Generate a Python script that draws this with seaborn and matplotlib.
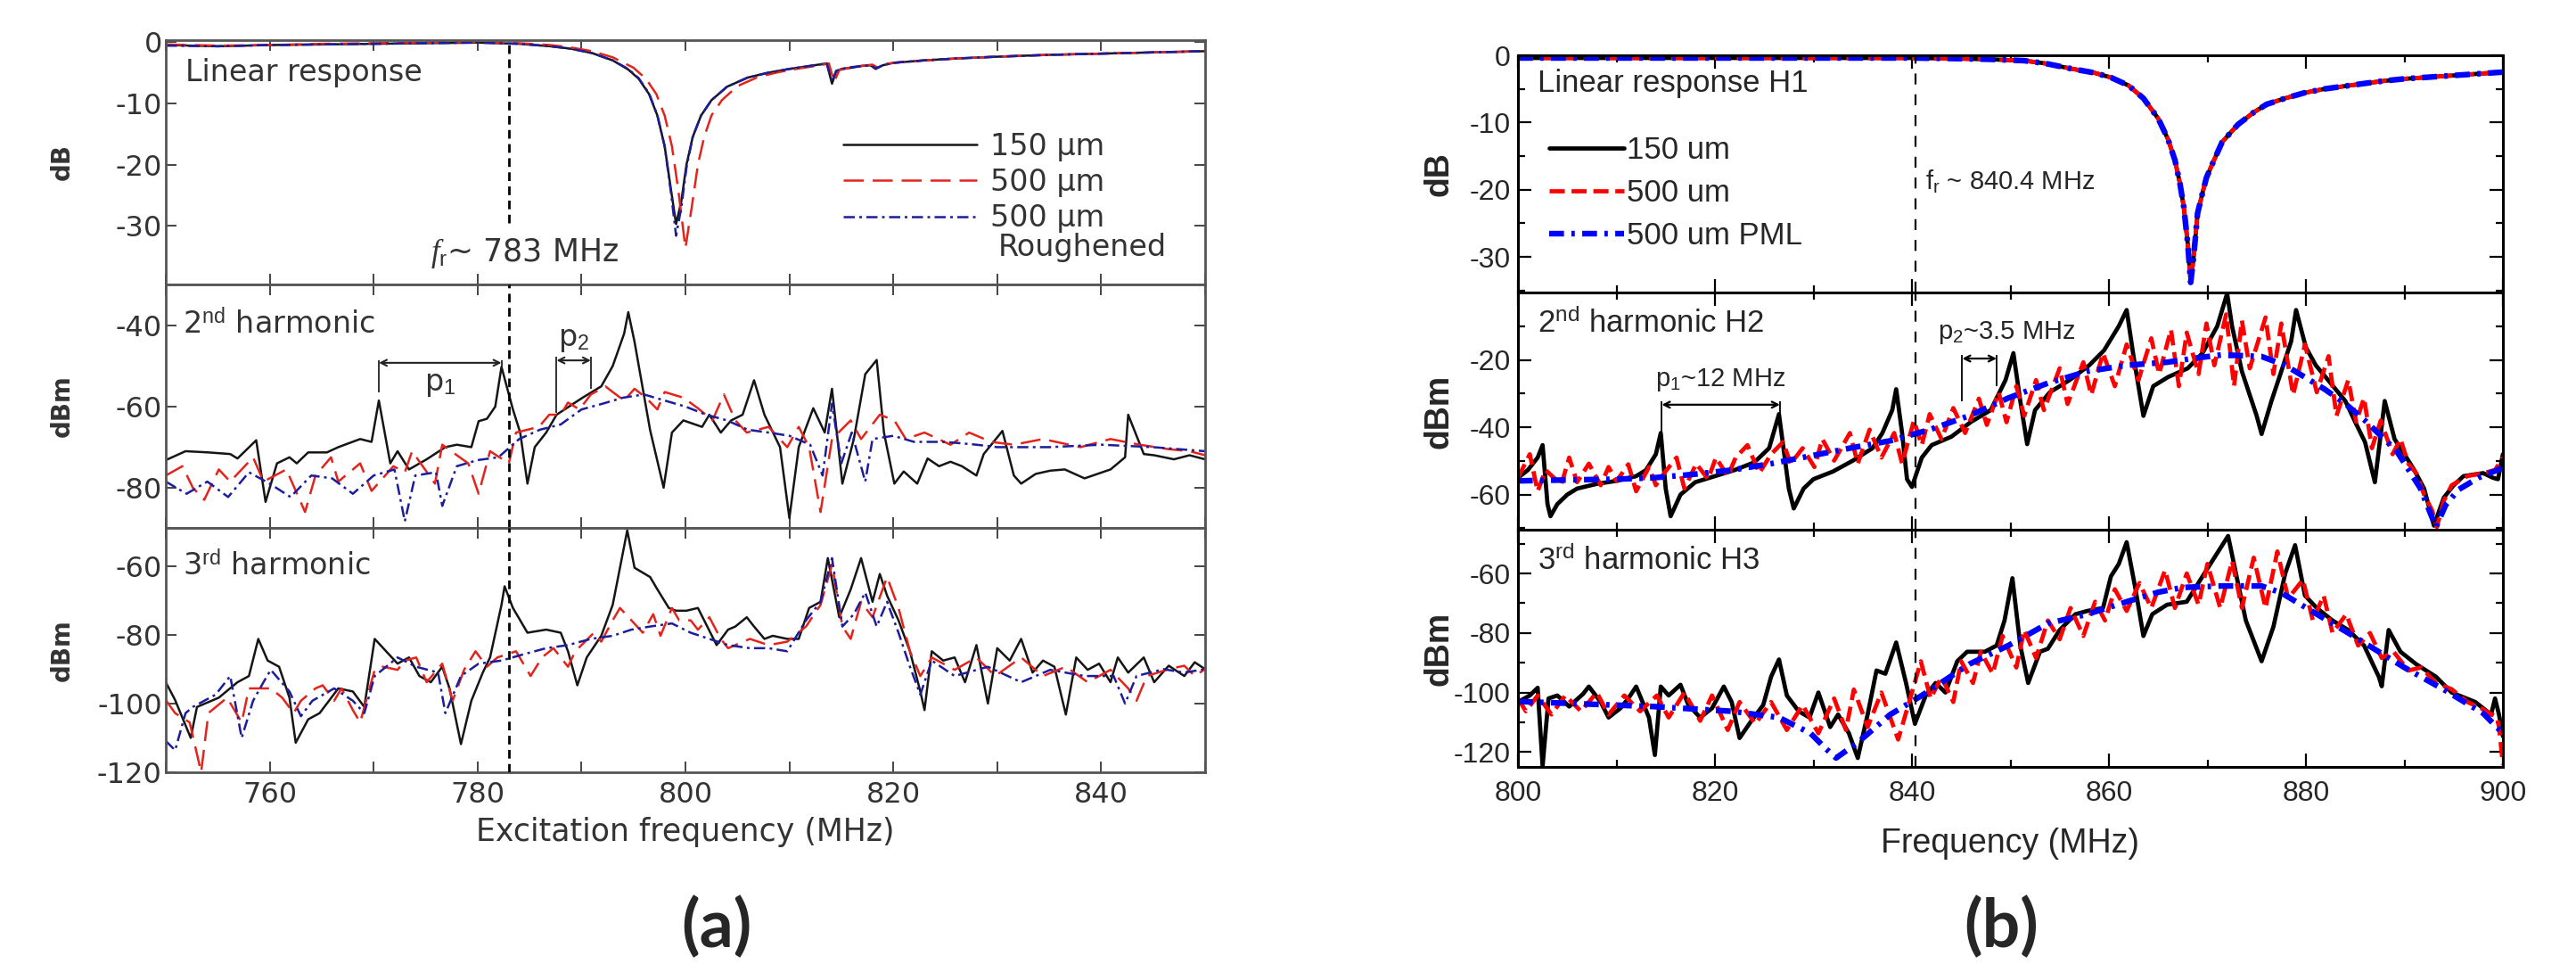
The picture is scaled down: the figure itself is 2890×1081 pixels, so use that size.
import matplotlib
matplotlib.use("Agg")
import matplotlib.pyplot as plt
import seaborn as sns
import pandas as pd

# --------------------------
# Datos panel (a): medición (frecuencia MHz, nivel)
# --------------------------
a_h1_black = [(750, -0.5), (755, -0.7), (760, -0.5), (765, -0.4), (770, -0.3), (775, -0.2), (780, -0.1),
              (784, -0.3), (787, -0.7), (789, -1.1), (791, -1.8), (793, -3.0), (794.5, -4.5), (795.5, -6.0),
              (796.5, -8.5), (797.3, -12), (798, -17), (798.6, -24), (799.1, -29.7), (799.6, -26),
              (800.1, -20), (800.7, -15.5), (801.5, -12), (802.5, -9.5), (804, -7.3), (806, -5.8),
              (808, -5.0), (810, -4.4), (812, -3.9), (813.6, -3.5), (814.1, -6.8), (814.5, -4.8),
              (815, -4.4), (816, -4.2), (817, -3.9), (817.8, -3.8), (818.3, -4.4), (819, -3.8),
              (820, -3.4), (823, -3.0), (826, -2.7), (830, -2.4), (835, -2.1), (840, -1.9), (845, -1.7),
              (850, -1.5)]
a_h1_red = [(750, -0.4), (755, -0.6), (760, -0.5), (765, -0.3), (770, -0.2), (775, -0.1), (780, 0.0),
            (784, -0.2), (787, -0.5), (789, -0.9), (791, -1.5), (793, -2.5), (795, -4.2), (796.2, -6.0),
            (797.2, -8.5), (798, -12), (798.7, -17), (799.3, -24), (800, -33.6), (800.6, -27),
            (801.2, -20), (801.8, -15.5), (802.5, -12), (803.5, -9.5), (805, -7.2), (807, -5.7),
            (809, -4.9), (811, -4.3), (813, -3.8), (813.8, -3.5), (814.3, -6.5), (814.8, -4.6),
            (816, -4.1), (818, -3.7), (818.5, -4.2), (819, -3.7), (820, -3.4), (823, -3.0), (826, -2.7),
            (830, -2.4), (835, -2.1), (840, -1.9), (845, -1.7), (850, -1.5)]
a_h1_blue = [(750, -0.6), (755, -0.7), (760, -0.5), (765, -0.4), (770, -0.3), (775, -0.2), (780, -0.1),
             (784, -0.3), (787, -0.7), (789, -1.1), (791, -1.8), (793, -3.0), (794.5, -4.4), (795.5, -5.9),
             (796.5, -8.4), (797.3, -12), (798, -17), (798.6, -24.5), (799.1, -31.6), (799.6, -27),
             (800.1, -20.5), (800.7, -15.5), (801.5, -12), (802.5, -9.5), (804, -7.3), (806, -5.8),
             (808, -5.0), (810, -4.4), (812, -3.9), (813.6, -3.5), (814.1, -6.5), (814.5, -4.7),
             (815, -4.4), (816, -4.1), (817, -3.9), (817.8, -3.8), (818.3, -4.3), (819, -3.8),
             (820, -3.4), (823, -3.0), (826, -2.7), (830, -2.4), (835, -2.1), (840, -1.9), (845, -1.7),
             (850, -1.5)]

a_h2_black = [(750, -73.2), (751.9, -71), (754.1, -71.3), (756.2, -71.7), (756.9, -72.8), (758.7, -68.3),
              (759.6, -83.5), (760.7, -74), (761.9, -72.5), (762.6, -74), (763.7, -71.3), (765.5, -71.3),
              (766.6, -70), (768.7, -68), (769.8, -68.7), (770.5, -58.5), (771.6, -74), (772.3, -71),
              (773.4, -75.5), (775.1, -73), (776.9, -70), (778, -69.4), (779.4, -70), (780.1, -63.6),
              (780.9, -63), (781.7, -60), (782.3, -50.2), (783.4, -60.7), (784.1, -66.4), (784.8, -79),
              (785.5, -70), (786.6, -66.4), (787.6, -62), (790.1, -57.8), (791.9, -55), (793, -50),
              (794.1, -42), (794.5, -36.7), (795.1, -44), (796.6, -65.8), (797.9, -80), (798.7, -66.4),
              (799.8, -63.4), (801.6, -65), (802.3, -62), (803.4, -66.4), (804.4, -63.4), (805.5, -62),
              (806.6, -53.5), (807.6, -62), (809.1, -70), (810, -87.5), (810.9, -70), (812.3, -60.4),
              (813.4, -66.4), (814.1, -55.6), (815.1, -79), (816.2, -68), (817.3, -52), (818.4, -48.5),
              (819.1, -66.4), (820.1, -79), (821, -76), (822.3, -79), (823.3, -72.8), (824.4, -74.7),
              (825.5, -73.6), (826.6, -74.7), (828, -77), (828.7, -71.7), (830.5, -66), (831.6, -77),
              (832.3, -79), (833.7, -76.6), (835.1, -75.8), (836.5, -75.5), (838.4, -77.7), (840.9, -75.5),
              (842.3, -72.5), (842.6, -62), (844.1, -71.7), (845.1, -72), (847, -73), (848.5, -72),
              (850, -73)]
a_h2_red = [(750, -77), (751.6, -74.7), (752.6, -80), (753.7, -83), (755.1, -75.5), (756.2, -78.5),
            (758.4, -72.5), (759.4, -78.5), (761.6, -75.5), (763.4, -86), (764.4, -77), (765.9, -72.5),
            (766.6, -78.5), (768.7, -74), (769.8, -80.8), (771.9, -74.7), (773, -76.2), (773.7, -71),
            (775.9, -79), (776.6, -69.4), (779.1, -74), (780.1, -81.5), (781.2, -71), (783, -74),
            (783.7, -66.4), (785.9, -65), (786.9, -62), (788, -62), (788.7, -59), (789.8, -60.7),
            (790.9, -57), (792.3, -55), (793, -56.4), (794.1, -58.5), (795.1, -55.6), (796.2, -57.8),
            (797.3, -60.7), (798, -56.4), (799.8, -57.8), (801.2, -60.4), (802.6, -63.4), (803.7, -57),
            (804.8, -63.4), (805.9, -66.4), (808, -65), (809.8, -70), (810.9, -65), (811.9, -70),
            (813, -86), (814.1, -68), (815.9, -63.4), (816.9, -68), (818.7, -62), (820.1, -63.4),
            (821.2, -68), (823, -66.4), (825.5, -69.4), (827.3, -66.4), (829.4, -68.7), (831.6, -69.4),
            (834.4, -68), (838, -70), (840.9, -68), (843.7, -69.4), (846.5, -70.5), (848.5, -71),
            (850, -72)]
a_h2_blue = [(750, -78.5), (752, -81.5), (754, -78.5), (756, -82.3), (758, -76.2), (760, -79), (762, -82.3),
             (764, -77), (766, -77.7), (768, -81.5), (770, -77), (772, -75.5), (773, -88.3), (774, -77),
             (776, -76.2), (776.6, -84.5), (778, -74.7), (780, -73.2), (782, -72.5), (784, -68),
             (786, -65.7), (788, -64.4), (790, -60.7), (792, -59.3), (794, -57.8), (796, -57),
             (798, -58.5), (800, -60), (802, -62), (804, -63.4), (806, -65.7), (808, -66.4),
             (810, -67.2), (812, -69.4), (813.2, -77), (814.1, -59.3), (815, -74), (816, -66.4),
             (817.3, -78.5), (818, -68), (820, -67.2), (822, -68.7), (825, -68.7), (828, -69.4),
             (830, -70), (835, -70), (840, -69.4), (845, -70), (850, -71)]

a_h3_black = [(750, -93.8), (750.9, -99), (752.4, -110), (753, -101), (755.1, -98.3), (756.9, -93.8),
              (758, -92), (758.9, -81.2), (759.8, -87.5), (760.9, -89.3), (761.9, -98.3), (762.5, -111.4),
              (763.7, -104.6), (764.8, -102.8), (766.6, -95.6), (768, -96.5), (769.1, -101), (770.1, -81.2),
              (771.2, -84.8), (772.3, -88.4), (773.4, -86.6), (774.4, -92), (775.5, -93.8), (776.6, -89.3),
              (777.3, -95.6), (778.4, -111.8), (779.4, -99.2), (780.5, -91), (781.2, -86.6), (782.3, -71.3),
              (782.6, -65.9), (783.4, -72.2), (784.8, -79.4), (786.6, -78.5), (788, -79.4), (788.7, -84.8),
              (789.6, -94.7), (790.5, -86.6), (791.9, -80.3), (793, -71.3), (793.7, -60.5), (794.4, -49.6),
              (795.1, -60.5), (796.6, -63.2), (797.3, -66.8), (798.4, -72.2), (799.1, -73), (800.1, -73),
              (801.2, -72.2), (802.1, -77.6), (803, -83), (804.1, -78.5), (804.8, -77.6), (805.9, -74.9),
              (806.6, -77.6), (807.6, -81.2), (808.4, -80.3), (809.8, -81.2), (810.9, -81.2), (811.9, -72.2),
              (813, -70.4), (813.7, -57.7), (814.8, -74.9), (815.9, -66.8), (816.9, -57.7), (818, -70.4),
              (818.7, -62.3), (819.4, -68.6), (820.5, -75.8), (821.6, -84.8), (822.6, -96.5), (823, -101.9),
              (823.7, -84.8), (824.8, -87.5), (825.9, -86.6), (826.9, -93.8), (828, -83), (829.1, -100),
              (830, -83.9), (831.2, -87.5), (832.3, -81.2), (833.4, -91), (834.4, -87.5), (835.5, -89.3),
              (836.6, -103.2), (837.6, -86.6), (838.7, -90.2), (839.8, -88.4), (840.9, -93.8), (841.6, -86.6),
              (842.6, -91), (844.1, -86.6), (845.1, -93.8), (846.5, -89), (848, -92), (849, -88), (850, -90)]
a_h3_red = [(750, -99), (750.9, -102.8), (752.3, -105.5), (753.4, -120), (754.1, -102.8), (755.9, -98.3),
            (757.3, -105.5), (758, -95.6), (760.1, -95.6), (761.2, -98.3), (762.3, -102.8), (763, -99.2),
            (764.4, -95.6), (765.1, -94.7), (766.2, -99.2), (766.9, -95.6), (768, -101.9), (768.7, -105.5),
            (770.1, -90.2), (770.9, -89.3), (772.3, -90.2), (773, -87.5), (774.1, -86.6), (775.1, -93.8),
            (776.6, -88.4), (777.6, -99.2), (778.7, -90.2), (779.8, -84.8), (780.9, -89.3), (781.9, -86.6),
            (783.7, -84.8), (785.1, -92), (786.2, -86.6), (787.3, -83.9), (788.7, -89.3), (789.4, -84.8),
            (791.2, -79.4), (791.9, -82), (793, -75.8), (793.7, -72.2), (794.8, -75.8), (795.9, -79.4),
            (796.9, -74), (797.6, -80.3), (798.7, -72.2), (799.4, -75.8), (800.5, -75.8), (801.2, -78.5),
            (802.3, -74.9), (803.4, -81.2), (804.1, -83.9), (806.2, -81.2), (808, -83), (809.8, -82),
            (811.6, -77.6), (813, -71.3), (814.1, -59.5), (815.1, -77.6), (815.9, -81.2), (816.9, -70.4),
            (818, -74.9), (819.4, -63.2), (820.5, -72.2), (821.6, -84.8), (822.6, -92), (823.7, -86.6),
            (825.9, -90.2), (828, -86.6), (829.8, -92), (832.3, -86.6), (834.4, -92), (836.6, -89.3),
            (838.7, -93.8), (840.9, -90.2), (842.6, -95.6), (843.4, -99.2), (844.4, -92), (846.5, -90),
            (848, -89), (849, -92), (850, -90)]
a_h3_blue = [(750, -110.9), (750.9, -113.6), (751.9, -102.8), (752.6, -101), (754.8, -97.4), (756.2, -92),
             (757.3, -110), (758.4, -99.2), (759.4, -93.8), (760.1, -90.2), (761.9, -96.5), (763, -103.7),
             (764.1, -99.2), (766.2, -95.6), (768, -99.2), (769.1, -102.8), (770.1, -92), (772.3, -86.6),
             (774.1, -89.3), (776.2, -91), (776.9, -102.8), (778.4, -92), (780.1, -88.4), (782.3, -87.5),
             (784.4, -85.7), (786.6, -83.9), (788.7, -83), (790.9, -81.2), (793, -80.3), (794.8, -78.5),
             (796.6, -77.6), (798.7, -76.7), (800.5, -79.4), (802.3, -81.2), (804.1, -83), (806.2, -83.9),
             (808, -83.9), (809.8, -84.8), (811.6, -75.8), (813, -70.4), (814.1, -57.7), (815.1, -77.6),
             (816.2, -74), (817.3, -67.7), (818.4, -77.6), (819.4, -70.4), (820.5, -79.4), (821.6, -89.3),
             (822.6, -97.4), (823.7, -87.5), (825.9, -92), (829.1, -89.3), (832.3, -93.8), (835.1, -90.2),
             (838.4, -92), (841.2, -92), (842.3, -100), (843.4, -92), (846, -90), (848, -91), (850, -90)]

# --------------------------
# Datos panel (b): simulación
# --------------------------
b_h1 = [(800, -0.4), (810, -0.4), (820, -0.4), (830, -0.4), (840, -0.4), (845, -0.5), (848, -0.6),
        (851.4, -0.8), (853.5, -1.2), (856.2, -2.0), (858.5, -2.6), (860.2, -3.3), (862, -4.5),
        (863.5, -6.4), (865, -9.4), (866, -12.5), (866.7, -15.6), (867.2, -19), (867.6, -22.6),
        (868, -28), (868.3, -33.8), (868.6, -30), (869, -23.5), (869.5, -20.5), (869.9, -18.2),
        (870.7, -15.5), (871.5, -12.9), (873.1, -10.3), (874.7, -8.5), (876, -7.3), (877.9, -6.4),
        (879.8, -5.6), (881.9, -5.0), (883.9, -4.6), (885.9, -4.2), (888, -3.8), (890, -3.5),
        (892, -3.3), (894, -3.1), (897, -2.8), (900, -2.5)]

b_h2_black = [(800, -55), (801, -52.7), (802, -49), (802.5, -45.3), (803, -62.8), (803.3, -66.4), (804, -62.8),
              (805, -60), (806, -58.2), (808, -56.8), (810, -55.9), (812, -54.5), (813, -52.7), (814, -48),
              (814.5, -41.7), (815, -58.2), (815.5, -66.4), (816.5, -60), (818, -56.3), (820, -54.5),
              (822, -52.7), (824, -50.4), (825.5, -46.2), (826.5, -36.1), (827.5, -58.2), (828, -64.1),
              (829, -58.2), (830, -55.4), (832, -53.1), (834, -49.9), (836, -46.2), (837, -41.7),
              (838, -34.9), (838.4, -28.7), (839, -41.7), (839.5, -55.4), (840, -57.7), (841, -49),
              (842, -45.3), (844, -42.8), (846, -38.4), (848, -34.9), (849.5, -26), (850.3, -18),
              (851, -32.2), (851.7, -45), (852.5, -34.9), (854, -29.6), (856, -26), (858, -21.6),
              (859.5, -17.2), (861, -10), (861.8, -5.2), (862.5, -19), (863.5, -36.6), (864.5, -27.8),
              (866, -25.1), (868, -22.5), (869.5, -18), (871, -10), (872, -0.3), (872.5, -10),
              (873.5, -23.4), (875, -36.6), (875.5, -42), (876.5, -32.2), (877.5, -23.4), (878.5, -14.5),
              (879, -5.2), (880, -16.3), (881, -21.6), (882, -25.1), (884, -32.2), (885, -38.4),
              (886, -44.4), (887, -56.3), (887.5, -44.4), (888, -32.2), (889, -43.5), (890, -48),
              (891, -52.7), (892, -58.2), (893, -69.2), (894, -60.9), (895, -57.2), (896, -54.5),
              (898, -53.6), (899, -55), (899.5, -55.4), (900, -48)]
b_h2_red = [(800, -55), (801.2, -48), (802, -59), (802.8, -52.7), (804.4, -57), (805.2, -49), (806, -56.3),
            (807.2, -50.8), (808.4, -57.2), (809.2, -51.8), (810, -56), (811.2, -51), (812, -59),
            (813.3, -51.8), (814, -57.2), (815, -53), (816.1, -49), (816.9, -58.2), (818.1, -50.8),
            (819.3, -55.4), (820.1, -49), (821.3, -54.5), (822.1, -49), (823.3, -45.3), (824.5, -53.6),
            (825.7, -48), (826.9, -44.4), (827.7, -50.8), (828.9, -46.2), (830.1, -51.8), (830.9, -43.5),
            (832.1, -49.9), (833.7, -41.7), (834.5, -50.8), (835.7, -40.7), (836.9, -49), (838.2, -41.7),
            (839, -50.8), (840.2, -38), (841, -45.3), (841.8, -36.1), (843, -43.5), (844.2, -34.3),
            (845.4, -41.7), (846.8, -31.5), (847.6, -39.3), (848.8, -29.6), (849.6, -38.5), (850.6, -27.8),
            (851.4, -36.6), (852.6, -26), (853.4, -34.9), (855, -22.5), (855.8, -33.1), (857.4, -20.7),
            (858.2, -30.4), (859.4, -18), (860.6, -27.8), (861.8, -15.4), (863, -26), (864.3, -13.6),
            (865.1, -24.2), (866.3, -11), (867.1, -27.8), (867.9, -11.9), (869.1, -24.2), (869.9, -9.2),
            (870.7, -21.6), (871.9, -6.5), (872.7, -27.8), (873.5, -8.3), (874.3, -22.5), (875.9, -7.4),
            (876.7, -24.2), (877.5, -9.2), (878.7, -30.4), (879.9, -15.4), (881.1, -29.6), (882.3, -18.9),
            (883.1, -36.6), (884.3, -26), (885.1, -38.4), (885.9, -31.3), (886.7, -46.2), (887.6, -38),
            (888.8, -48), (889.6, -43.5), (890.4, -50.8), (891.2, -53.6), (892, -60), (892.8, -64.6),
            (893.3, -69.6), (894, -61.8), (894.8, -57.2), (896.4, -54.5), (898, -53.6), (899.2, -52.7),
            (900, -49)]
b_h2_blue = [(800, -55.9), (805.6, -55.6), (810, -55.4), (813.7, -55), (817.7, -54), (821.7, -52.7),
             (825.7, -50.8), (829.7, -48.5), (833.7, -46.2), (837.8, -44), (841.8, -40.7), (845.8, -36.6),
             (849.8, -31.3), (853.8, -26.9), (857.8, -23.4), (861.8, -21.6), (865.9, -20.7), (868.7, -19.5),
             (871.5, -18.5), (875.5, -19), (877.9, -21.6), (881.9, -28.7), (884, -33), (886, -38),
             (889.2, -47), (891.6, -58), (893.2, -69.6), (894.2, -63), (895.5, -58.5), (897.5, -55),
             (900, -52)]

b_h3_black = [(800, -103.2), (801.2, -101), (802, -98.4), (802.5, -124.7), (803.1, -102), (804, -101),
              (805.2, -104.7), (806.6, -100.5), (807.2, -98), (808.4, -103.2), (809.2, -108.4), (810.4, -105.3),
              (811.2, -102), (812, -98), (813.3, -108.4), (813.9, -121), (814.5, -98), (815.3, -101),
              (816.5, -97.4), (817.3, -104.2), (818.5, -108.4), (819.7, -105.3), (820.9, -98), (821.7, -103.2),
              (822.5, -115.3), (823.7, -109.5), (824.9, -104.2), (825.7, -94.7), (826.5, -88.9), (827.3, -101),
              (828.5, -106.3), (829.6, -108.4), (830.5, -100), (831.7, -111.6), (832.5, -107.4), (833.6, -113.7),
              (834.5, -122), (835.5, -107.4), (836.4, -92.6), (837.3, -93.7), (838.4, -83.2), (839.4, -96.8),
              (840.3, -110.5), (841.4, -101), (842.4, -96.8), (843.4, -100), (844.6, -89.5), (845.6, -86.3),
              (846.6, -86.3), (847.4, -86.3), (848.6, -84.2), (849.4, -75.8), (850.2, -61.6), (851, -84.2),
              (851.8, -96.8), (853, -86.3), (853.8, -85.3), (855, -79), (856.6, -73.7), (857.8, -72.6),
              (859.4, -71.6), (860.2, -61), (861, -56.8), (861.8, -49.5), (862.7, -65.3), (863.5, -81),
              (864.4, -73.7), (865.9, -70.5), (867.9, -69.5), (869.5, -61), (870.7, -54.7), (872.1, -47.4),
              (873.1, -63.2), (873.9, -75.8), (875.5, -89.5), (876.7, -77.9), (877.9, -60), (878.9, -50.5),
              (879.9, -67.4), (881.1, -71.6), (882.7, -75.8), (884.3, -79), (885.9, -84.2), (887.4, -94.7),
              (887.7, -97.9), (888.4, -79), (889.6, -86.3), (891.2, -90.5), (893.2, -94.7), (894.8, -100),
              (897.2, -103.2), (898.8, -107.4), (899.2, -102), (899.6, -107.4), (900, -114.7)]
b_h3_red = [(800, -102), (800.8, -106.3), (802, -101), (803.4, -107.4), (804.8, -101), (806.4, -106.3),
            (808, -100), (809.2, -107.4), (810.8, -101), (812.4, -106.3), (814.1, -101), (815.3, -108.4),
            (816.9, -100), (818.5, -109.5), (819.7, -101), (821.3, -112.6), (822.5, -103.2), (824.1, -110.5),
            (825.7, -103.2), (827.3, -112.6), (828.9, -104.2), (830.5, -113.7), (832.1, -102), (833.3, -112.6),
            (834.1, -99), (835.5, -111.6), (836.9, -100), (838.6, -115.8), (840, -100), (840.9, -89.5),
            (841.9, -102), (843, -94.7), (844.2, -103.2), (845, -89.5), (846.2, -96.8), (847, -86.3),
            (848.2, -93.7), (849.2, -81), (850.6, -91.6), (851.4, -79), (852.6, -88.4), (853.8, -75.8),
            (855, -82.1), (856.1, -71.6), (857.4, -81), (858.6, -69.5), (859.6, -75.8), (860.6, -65.3),
            (861.8, -72.6), (863.1, -63.2), (864.3, -71.6), (865.7, -58.9), (866.7, -71.6), (867.9, -60),
            (869.1, -70.5), (870, -56.8), (871.3, -71.6), (872.5, -55.8), (873.5, -71.6), (874.7, -54.7),
            (875.9, -71.6), (877.1, -52.6), (878.2, -68.4), (879.7, -62.1), (880.7, -75.8), (881.8, -67.4),
            (882.7, -80), (884.1, -73.7), (885.3, -84.2), (886.5, -80), (887.7, -88.4), (888.9, -86.3),
            (890.4, -92.6), (891.7, -91.6), (893.2, -96.8), (894.8, -98.9), (896.4, -103.2), (897.8, -105.3),
            (899.4, -108.4), (899.6, -111.6), (900, -124.2)]
b_h3_blue = [(800, -103), (805.6, -103.7), (813.7, -104.7), (821.7, -106.3), (826.5, -108.4), (829.7, -113.7),
             (831.3, -119), (832.3, -122), (834.5, -116.8), (837.8, -107.4), (841, -101), (845.8, -90.5),
             (849.8, -84.2), (853.8, -76.8), (857.8, -73.7), (861.8, -69.5), (865, -66.3), (867.5, -64.7),
             (871.5, -64.2), (875.5, -64.2), (877.5, -66.5), (879.5, -70.5), (884.3, -80), (890, -91.6),
             (894, -99), (898, -107), (900, -113.7)]

# Frecuencias de resonancia y periodos marcados
fr_a = 783
fr_b = 840.4
a_p1 = (770.5, 782.3)
a_p2 = (787.6, 790.9)
b_p1 = (814.6, 826.6)
b_p2 = (845.1, 848.6)

# --------------------------
# Estilo general
# --------------------------
sns.set_theme(style="ticks")
plt.rcParams["font.family"] = ["Liberation Sans", "DejaVu Sans"]
plt.rcParams["mathtext.fontset"] = "custom"
plt.rcParams["mathtext.rm"] = "Liberation Sans"
plt.rcParams["mathtext.it"] = "Liberation Serif:italic"
plt.rcParams["mathtext.bf"] = "Liberation Sans:bold"

W, H = 2890, 1081
fig = plt.figure(figsize=(W / 100, H / 100), dpi=100)
fig.patch.set_facecolor("white")


def stacked_axes(left, right, top, bottom, n=3):
    h = (bottom - top) / n
    return [fig.add_axes([left / W, 1 - (top + (i + 1) * h) / H, (right - left) / W, h / H])
            for i in range(n)]


def draw(ax, pairs, color, lw, ls):
    df = pd.DataFrame(pairs, columns=["freq", "level"])
    sns.lineplot(data=df, x="freq", y="level", ax=ax, color=color, linewidth=lw, linestyle=ls,
                 estimator=None, sort=False, legend=False)
    return ax.lines[-1]


# --------------------------
# Panel (a)
# --------------------------
A_TXT = "#333333"
A_FONT = "DejaVu Sans"
A_SIZE = 24
A_BLACK, A_RED, A_BLUE = "#151515", "#e3241c", "#1c1c9c"
A_LW = 1.8
a_styles = [(A_BLACK, "-"), (A_RED, (0, (9, 4))), (A_BLUE, (0, (5, 2, 1.2, 2)))]

axes_a = stacked_axes(186, 1352, 45, 866)
series_a = [[a_h1_black, a_h1_red, a_h1_blue],
            [a_h2_black, a_h2_red, a_h2_blue],
            [a_h3_black, a_h3_red, a_h3_blue]]
ylims_a = [(-39.5, 0.3), (-90, -29.8), (-120, -49)]
yticks_a = [[0, -10, -20, -30], [-40, -60, -80], [-60, -80, -100, -120]]
ylabels_a = ["dB", "dBm", "dBm"]

for i, ax in enumerate(axes_a):
    handles = []
    for pairs, (col, ls) in zip(series_a[i], a_styles):
        handles.append(draw(ax, pairs, col, A_LW, ls))
    ax.set_xlim(750, 850)
    ax.set_ylim(*ylims_a[i])
    ax.set_yticks(yticks_a[i])
    ax.set_yticklabels([str(t) for t in yticks_a[i]])
    ax.set_xticks(list(range(750, 851, 10)))
    ax.set_xticklabels(["", "760", "", "780", "", "800", "", "820", "", "840", ""])
    ax.tick_params(axis="both", direction="in", top=True, right=True, length=8.5, width=1.4,
                   color="#444444", labelcolor=A_TXT, labelsize=23, labelfontfamily=A_FONT)
    ax.tick_params(axis="x", pad=7, labelbottom=(i == 2))
    ax.tick_params(axis="y", pad=3)
    for sp in ax.spines.values():
        sp.set_color("#555555")
        sp.set_linewidth(2.0)
    ax.set_ylabel(ylabels_a[i], fontsize=20, fontweight="bold", color=A_TXT, family=A_FONT)
    ax.yaxis.set_label_coords(-0.088, 0.5)
    ax.set_xlabel("")
    # línea de la frecuencia de resonancia
    ax.axvline(fr_a, ymin=(0.25 if i == 0 else 0), ymax=1, color="black", lw=2.0,
               linestyle=(0, (3.5, 2.2)), zorder=5)
    if i == 0:
        leg = ax.legend(handles, ["150 µm", "500 µm", "500 µm"], loc="upper left",
                        bbox_to_anchor=(0.652, 0.625), frameon=False, borderpad=0, borderaxespad=0,
                        handlelength=4.5, handletextpad=0.45, labelspacing=0.22,
                        prop={"family": A_FONT, "size": A_SIZE})
        for t in leg.get_texts():
            t.set_color(A_TXT)
        ax.text(0.801, 0.15, "Roughened", transform=ax.transAxes, fontsize=A_SIZE, color=A_TXT,
                family=A_FONT, va="center")
        ax.text(0.019, 0.865, "Linear response", transform=ax.transAxes, fontsize=A_SIZE,
                color=A_TXT, family=A_FONT, va="center")
        ax.text(0.255, 0.128, r"$f_{\mathrm{r}}$~ 783 MHz", transform=ax.transAxes, fontsize=25,
                color=A_TXT, family=A_FONT, va="center")

axes_a[1].text(0.016, 0.836, r"2$^{\mathrm{nd}}$ harmonic", transform=axes_a[1].transAxes,
               fontsize=A_SIZE, color=A_TXT, family=A_FONT, va="center")
axes_a[2].text(0.016, 0.847, r"3$^{\mathrm{rd}}$ harmonic", transform=axes_a[2].transAxes,
               fontsize=A_SIZE, color=A_TXT, family=A_FONT, va="center")
axes_a[2].set_xlabel("Excitation frequency (MHz)", fontsize=25, color=A_TXT, family=A_FONT,
                     labelpad=7)

# marcas p1 y p2 (panel a, 2º armónico)
ax = axes_a[1]
ax.annotate("", xy=(a_p1[1], -49.2), xytext=(a_p1[0], -49.2),
            arrowprops=dict(arrowstyle="<->", lw=1.5, color="#222222", shrinkA=0, shrinkB=0))
ax.vlines(a_p1[0], -56.5, -48.5, color="#222222", lw=1.3)
ax.vlines(a_p1[1], -50.5, -48.5, color="#222222", lw=1.3)
ax.text(sum(a_p1) / 2, -54.5, r"p$_1$", fontsize=A_SIZE, color=A_TXT, ha="center", va="center",
        family=A_FONT)
ax.annotate("", xy=(a_p2[1], -48.6), xytext=(a_p2[0], -48.6),
            arrowprops=dict(arrowstyle="<->", lw=1.5, color="#222222", shrinkA=0, shrinkB=0,
                            mutation_scale=12))
ax.vlines(a_p2[0], -61.5, -47.6, color="#222222", lw=1.3)
ax.vlines(a_p2[1], -55.6, -47.6, color="#222222", lw=1.3)
ax.text(sum(a_p2) / 2, -43.3, r"p$_2$", fontsize=A_SIZE, color=A_TXT, ha="center", va="center",
        family=A_FONT)

# --------------------------
# Panel (b)
# --------------------------
B_FONT = "Liberation Sans"
b_styles = [("black", 3.4, "-"), ("#ff0000", 3.4, (0, (3.6, 1.6))),
            ("#0000ff", 4.6, (0, (2.6, 1.3, 0.6, 1.3)))]

axes_b = stacked_axes(1703, 2808, 62, 860)
series_b = [[b_h1, b_h1, b_h1],
            [b_h2_black, b_h2_red, b_h2_blue],
            [b_h3_black, b_h3_red, b_h3_blue]]
ylims_b = [(-35.3, 0), (-70.4, 0), (-125, -45.3)]
yticks_b = [[0, -10, -20, -30], [-20, -40, -60], [-60, -80, -100, -120]]
yminor_b = [[-5, -15, -25, -35], [-10, -30, -50, -70], [-50, -70, -90, -110]]
ylabels_b = ["dB", "dBm", "dBm"]

for i, ax in enumerate(axes_b):
    handles = []
    for pairs, (col, lw, ls) in zip(series_b[i], b_styles):
        handles.append(draw(ax, pairs, col, lw, ls))
    ax.set_xlim(800, 900)
    ax.set_ylim(*ylims_b[i])
    ax.set_yticks(yticks_b[i])
    ax.set_yticklabels([str(t) for t in yticks_b[i]])
    ax.set_yticks(yminor_b[i], minor=True)
    ax.set_xticks(list(range(800, 901, 20)))
    ax.set_xticks(list(range(810, 900, 20)), minor=True)
    ax.tick_params(axis="both", which="major", direction="in", top=True, right=True, length=10.5,
                   width=1.6, color="black", labelsize=23, labelfontfamily=B_FONT)
    ax.tick_params(axis="both", which="minor", direction="in", top=True, right=True, length=5.5,
                   width=1.6, color="black")
    ax.tick_params(axis="x", which="major", pad=11, labelbottom=(i == 2))
    ax.tick_params(axis="y", pad=6)
    for sp in ax.spines.values():
        sp.set_color("black")
        sp.set_linewidth(2.2)
    ax.set_ylabel(ylabels_b[i], fontsize=27, fontweight="bold", family=B_FONT)
    ax.yaxis.set_label_coords(-0.064, 0.5)
    ax.set_xlabel("")
    ax.axvline(fr_b, color="black", lw=1.6, linestyle=(0, (5.5, 5)), zorder=5)
    if i == 0:
        ax.legend(handles, ["150 um", "500 um", "500 um PML"], loc="upper left",
                  bbox_to_anchor=(0.032, 0.66), frameon=False, borderpad=0, borderaxespad=0,
                  handlelength=2.4, handletextpad=0.1, labelspacing=0.43,
                  prop={"family": B_FONT, "size": 25})
        ax.text(0.02, 0.883, "Linear response H1", transform=ax.transAxes, fontsize=25,
                family=B_FONT, va="center")
        ax.text(0.414, 0.468, r"f$_{\mathrm{r}}$ ~ 840.4 MHz", transform=ax.transAxes, fontsize=21,
                family=B_FONT, va="center")

axes_b[1].text(0.02, 0.868, r"2$^{\mathrm{nd}}$ harmonic H2", transform=axes_b[1].transAxes,
               fontsize=25, family=B_FONT, va="center")
axes_b[2].text(0.02, 0.868, r"3$^{\mathrm{rd}}$ harmonic H3", transform=axes_b[2].transAxes,
               fontsize=25, family=B_FONT, va="center")
axes_b[2].set_xlabel("Frequency (MHz)", fontsize=27, family=B_FONT, labelpad=16)

ax = axes_b[1]
ax.annotate("", xy=(b_p1[1], -33.3), xytext=(b_p1[0], -33.3),
            arrowprops=dict(arrowstyle="<->", lw=1.6, color="black", shrinkA=0, shrinkB=0))
ax.vlines(b_p1[0], -41.5, -32.3, color="black", lw=1.3)
ax.vlines(b_p1[1], -36.2, -32.3, color="black", lw=1.3)
ax.text(sum(b_p1) / 2, -26, r"p$_1$~12 MHz", fontsize=21, ha="center", va="center", family=B_FONT)
ax.annotate("", xy=(b_p2[1], -19.6), xytext=(b_p2[0], -19.6),
            arrowprops=dict(arrowstyle="<->", lw=1.6, color="black", shrinkA=0, shrinkB=0,
                            mutation_scale=12))
ax.vlines(b_p2[0], -32.2, -18.5, color="black", lw=1.3)
ax.vlines(b_p2[1], -27.8, -18.5, color="black", lw=1.3)
ax.text(b_p2[0] - 2.5, -11.9, r"p$_2$~3.5 MHz", fontsize=21, ha="left", va="center", family=B_FONT)

# --------------------------
# Etiquetas (a) y (b)
# --------------------------
fig.text(804 / W, 1 - 1040 / H, "(a)", fontsize=54, fontweight="bold", family="Lato",
         ha="center", va="center")
fig.text(2245 / W, 1 - 1040 / H, "(b)", fontsize=54, fontweight="bold", family="Lato",
         ha="center", va="center")

fig.savefig("out.png", dpi=100, facecolor="white")
plt.close(fig)
